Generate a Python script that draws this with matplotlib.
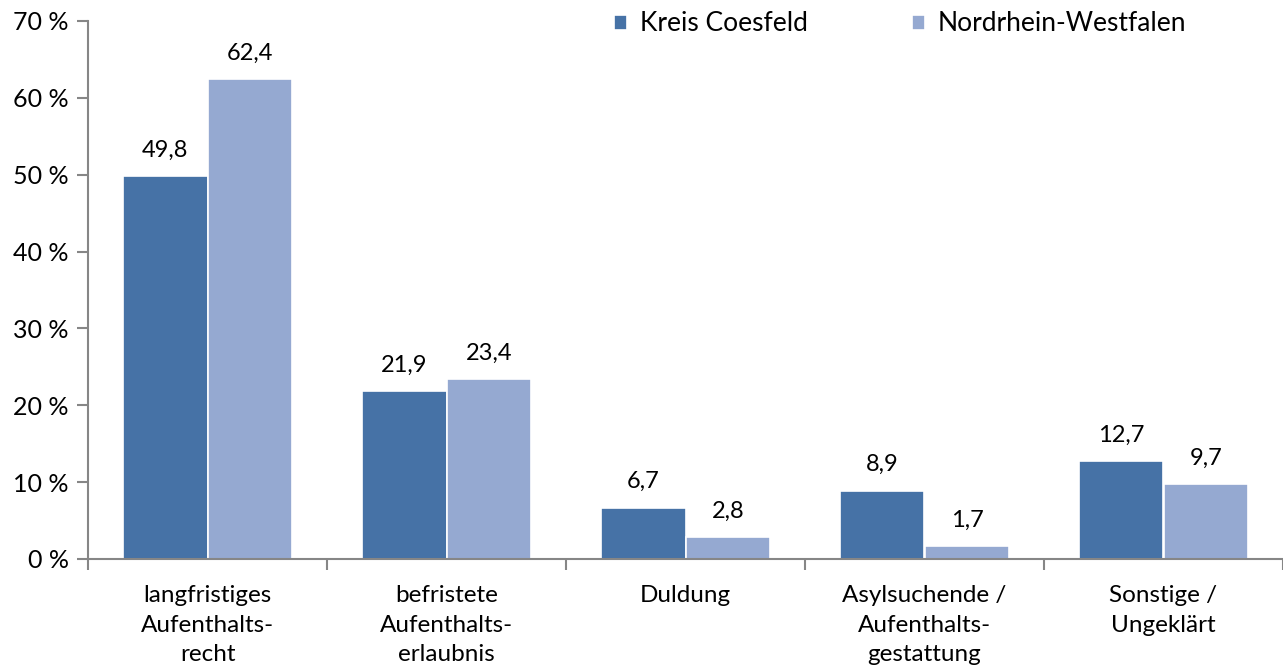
import matplotlib.pyplot as plt
import numpy as np

# data
categories = ["langfristiges\nAufenthalts-\nrecht", "befristete\nAufenthalts-\nerlaubnis",
              "Duldung", "Asylsuchende /\nAufenthalts-\ngestattung", "Sonstige /\nUngeklärt"]
kreis = [49.8, 21.9, 6.7, 8.9, 12.7]
nrw = [62.4, 23.4, 2.8, 1.7, 9.7]
series_names = ["Kreis Coesfeld", "Nordrhein-Westfalen"]

plt.rcParams['font.family'] = ['Lato', 'DejaVu Sans']

fig = plt.figure(figsize=(12.83, 6.72), dpi=100)
ax = fig.add_axes([88 / 1283, 113 / 672, 1 - 88 / 1283, (559 - 21) / 672])

x = np.arange(len(categories))
w = 0.355
dark = "#4672A6"
light = "#95A9D1"

b1 = ax.bar(x - w / 2, kreis, w, color=dark, edgecolor="white", linewidth=1.2, label=series_names[0])
b2 = ax.bar(x + w / 2, nrw, w, color=light, edgecolor="white", linewidth=1.2, label=series_names[1])

for bars, vals in ((b1, kreis), (b2, nrw)):
    for b, v in zip(bars, vals):
        ax.annotate(f"{v:.1f}".replace(".", ","), (b.get_x() + b.get_width() / 2, v),
                    xytext=(0, 11), textcoords="offset points", ha="center", va="bottom",
                    fontsize=17)

ax.set_xlim(-0.5, len(categories) - 0.5)
ax.set_ylim(0, 70)
ax.set_yticks(range(0, 71, 10))
ax.set_yticklabels([f"{t} %" for t in range(0, 71, 10)], fontsize=18)

# category labels centred, ticks at boundaries
ax.set_xticks(x)
ax.set_xticklabels(categories, fontsize=17.5, linespacing=1.5, va="top")
ax.tick_params(axis="x", which="major", length=0, pad=19)
ax.set_xticks(np.arange(-0.5, len(categories) + 0.5, 1), minor=True)
ax.tick_params(axis="x", which="minor", length=8, color="#868686", width=1.5)
ax.tick_params(axis="y", length=8, color="#868686", width=1.5, pad=6)

for s in ("top", "right"):
    ax.spines[s].set_visible(False)
for s in ("left", "bottom"):
    ax.spines[s].set_color("#868686")
    ax.spines[s].set_linewidth(1.5)

leg = ax.legend(loc="upper left", bbox_to_anchor=(0.42, 1.062), ncol=2, frameon=False,
                fontsize=19, handlelength=0.5, handleheight=0.5, handletextpad=0.5,
                columnspacing=3.93)

fig.savefig("out.png", dpi=100)
